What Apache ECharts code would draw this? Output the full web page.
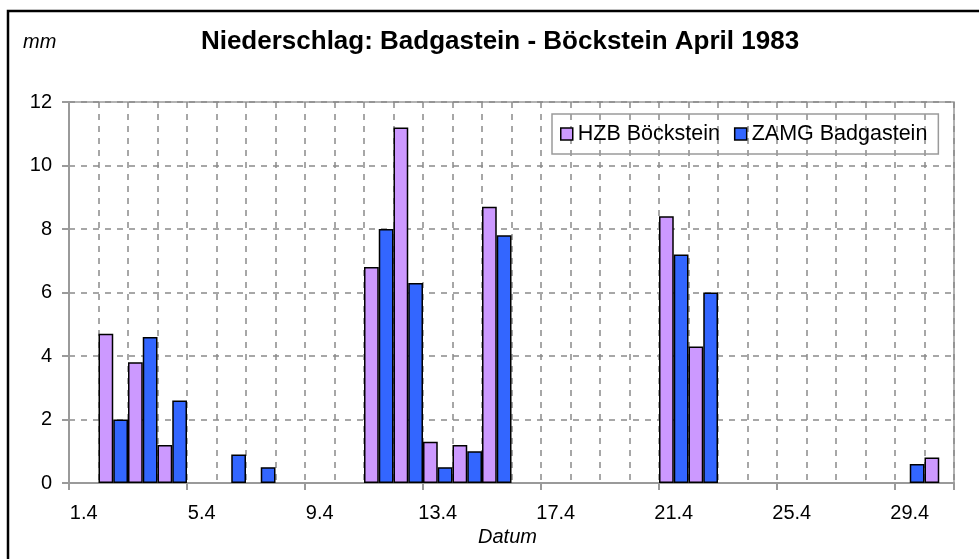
<!DOCTYPE html>
<html>
<head>
<meta charset="utf-8">
<script src="https://cdn.jsdelivr.net/npm/echarts@6/dist/echarts.min.js"></script>
<style>
    html, body { margin: 0; padding: 0; background: #fff; }
    #chart { width: 979px; height: 559px; }
</style>
</head>
<body>
<div id="chart"></div>
<script>
// Tage im April 1983
const days = ['1.4', '2.4', '3.4', '4.4', '5.4', '6.4', '7.4', '8.4', '9.4', '10.4',
    '11.4', '12.4', '13.4', '14.4', '15.4', '16.4', '17.4', '18.4', '19.4', '20.4',
    '21.4', '22.4', '23.4', '24.4', '25.4', '26.4', '27.4', '28.4', '29.4', '30.4'];
// Niederschlag in mm (null = kein Balken)
const hzbBoeckstein = [null, 4.7, 3.8, 1.2, null, null, null, null, null, null,
    6.8, 11.2, 1.3, 1.2, 8.7, null, null, null, null, null,
    8.4, 4.3, null, null, null, null, null, null, null, 0.8];
const zamgBadgastein = [null, 2.0, 4.6, 2.6, null, 0.9, 0.5, null, null, null,
    8.0, 6.3, 0.5, 1.0, 7.8, null, null, null, null, null,
    7.2, 6.0, null, null, null, null, null, null, 0.6, null];
const seriesNames = ['HZB Böckstein', 'ZAMG Badgastein'];

const font = '"Liberation Sans", Arial, sans-serif';
const gray = '#9a9a9a';

const chart = echarts.init(document.getElementById('chart'));
chart.setOption({
    animation: false,
    backgroundColor: '#fff',
    color: ['#cc99ff', '#3366ff'],
    title: {
        text: 'Niederschlag: Badgastein - Böckstein April 1983',
        left: 500,
        top: 29,
        padding: 0,
        textAlign: 'center',
        textStyle: { fontFamily: font, fontSize: 26, fontWeight: 'bold', color: '#000' }
    },
    graphic: [
        {
            type: 'rect',
            shape: { x: 8, y: 11, width: 1000, height: 600 },
            style: { fill: 'none', stroke: '#000', lineWidth: 2.5 },
            silent: true
        },
        {
            type: 'text',
            x: 23,
            y: 32,
            style: { text: 'mm', font: 'italic 20px ' + font, fill: '#000' }
        }
    ],
    legend: {
        left: 552,
        top: 114,
        padding: [9, 11, 9, 8],
        itemGap: 14,
        itemWidth: 12,
        itemHeight: 12,
        icon: 'rect',
        borderColor: gray,
        borderWidth: 1.5,
        textStyle: { fontFamily: font, fontSize: 21.5, color: '#000' },
        itemStyle: { borderColor: '#000', borderWidth: 1.5 },
        data: seriesNames
    },
    grid: {
        left: 69,
        right: 25,
        top: 102,
        bottom: 76,
        show: true,
        borderColor: gray,
        borderWidth: 1.5
    },
    xAxis: {
        type: 'category',
        data: days,
        boundaryGap: true,
        name: 'Datum',
        nameLocation: 'middle',
        nameGap: 30,
        nameTextStyle: { fontFamily: font, fontSize: 20, fontStyle: 'italic', color: '#000', padding: [0, 8, 0, 0] },
        axisLine: { lineStyle: { color: gray, width: 2 } },
        axisTick: { show: true, interval: 3, length: 7, lineStyle: { color: gray, width: 2 } },
        axisLabel: { interval: 3, margin: 20, fontFamily: font, fontSize: 20, color: '#000' },
        splitLine: { show: true, interval: 0, lineStyle: { color: '#8a8a8a', width: 1.5, type: [6, 6] } }
    },
    yAxis: {
        type: 'value',
        min: 0,
        max: 12,
        interval: 2,
        axisLine: { show: true, lineStyle: { color: gray, width: 2 } },
        axisTick: { show: true, length: 7, lineStyle: { color: gray, width: 2 } },
        axisLabel: { margin: 17, fontFamily: font, fontSize: 20, color: '#000' },
        splitLine: { show: true, lineStyle: { color: '#8a8a8a', width: 1.5, type: [6, 6] } }
    },
    series: [
        {
            name: seriesNames[0],
            type: 'bar',
            data: hzbBoeckstein,
            barGap: '0%',
            barCategoryGap: '0%',
            itemStyle: { borderColor: '#000', borderWidth: 1.5 }
        },
        {
            name: seriesNames[1],
            type: 'bar',
            data: zamgBadgastein,
            barGap: '0%',
            barCategoryGap: '0%',
            itemStyle: { borderColor: '#000', borderWidth: 1.5 }
        }
    ]
});
</script>
</body>
</html>
